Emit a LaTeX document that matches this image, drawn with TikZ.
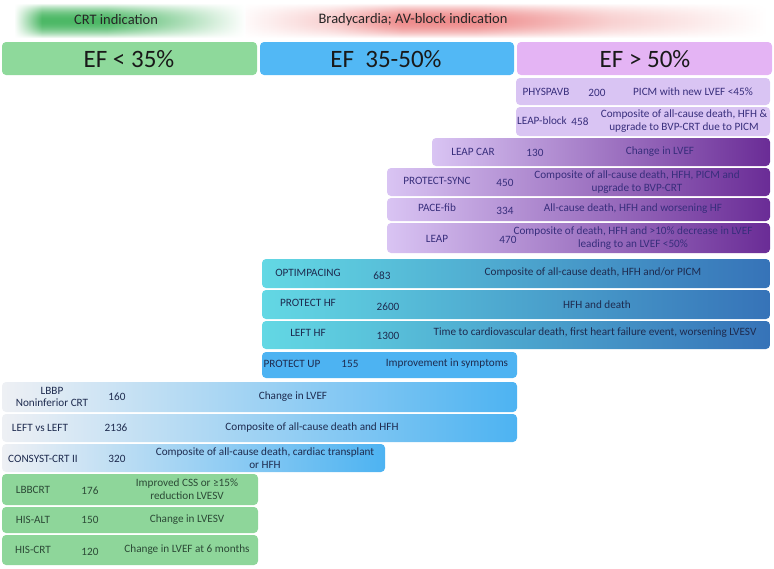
\documentclass[tikz,border=0pt]{standalone}
\usepackage{fontspec}
\setmainfont{Carlito}
\usetikzlibrary{fadings}
\definecolor{efgreen}{HTML}{8ED99B}
\definecolor{efblue}{HTML}{52B8F5}
\definecolor{efpurple}{HTML}{E4B4F4}
\definecolor{lav}{HTML}{D9C4F3}
\definecolor{lavmid}{HTML}{C3A5EA}
\definecolor{purpdark}{HTML}{6A2C96}
\definecolor{cyanL}{HTML}{63D8E4}
\definecolor{blueM}{HTML}{4AB0DA}
\definecolor{blueD}{HTML}{3673B8}
\definecolor{upblue}{HTML}{4DB3F2}
\definecolor{grayL}{HTML}{EEF0F4}
\definecolor{skyL}{HTML}{BFE1F8}
\definecolor{greenrow}{HTML}{8ED69A}
\definecolor{crtg}{HTML}{4DB866}
\definecolor{bradr}{HTML}{EE8C8C}
\definecolor{txtnavy}{HTML}{1E2B4F}
\definecolor{txtpurp}{HTML}{382E7C}
\definecolor{txtgreen}{HTML}{2C4A36}
\definecolor{txthead}{HTML}{262626}
% TikZ maps 25bp..75bp of these shadings onto the path
\pgfdeclarehorizontalshading{crtsh}{100bp}{color(0bp)=(white); color(25bp)=(white); color(31bp)=(crtg); color(45bp)=(crtg); color(62bp)=(crtg!45); color(75bp)=(white); color(100bp)=(white)}
\pgfdeclarehorizontalshading{bradsh}{100bp}{color(0bp)=(bradr!5); color(25bp)=(bradr!5); color(33bp)=(bradr!40); color(40bp)=(bradr); color(47bp)=(bradr); color(60bp)=(bradr!40); color(75bp)=(white); color(100bp)=(white)}
\tikzfading[name=vsoft, top color=transparent!100, bottom color=transparent!100, middle color=transparent!0]
\tikzset{
  box/.style={rounded corners=4pt},
  efbox/.style={box},
  band/.style={path fading=vsoft},
  eftxt/.style={font=\fontsize{25}{27}\selectfont, text=black!90, inner sep=0},
  headtxt/.style={font=\fontsize{14.5}{16}\selectfont, text=txthead, inner sep=0},
  txt/.style={font=\fontsize{11.2}{12.6}\selectfont, align=center, inner sep=0},
  ptxt/.style={txt, text=txtpurp},
  btxt/.style={txt, text=txtnavy},
  gtxt/.style={txt, text=txtgreen},
  lavsolid/.style={box, fill=lav},
  lavgrad/.style={box, left color=lav, middle color=lavmid, right color=purpdark},
  cyangrad/.style={box, left color=cyanL, middle color=blueM, right color=blueD},
  upsolid/.style={box, fill=upblue},
  skygrad/.style={box, left color=grayL, middle color=skyL, right color=upblue},
  greensolid/.style={box, fill=greenrow},
}
\begin{document}
\begin{tikzpicture}[x=1pt,y=-1pt]
\useasboundingbox (0,0) rectangle (774,568);
% headers
\path[band, shading=crtsh] (14,3) rectangle (246,38);
\path[band, shading=crtsh] (14,3) rectangle (246,38);
\path[band, shading=bradsh] (246,3) rectangle (768,38);
\path[band, shading=bradsh] (246,3) rectangle (768,38);
\node[headtxt] (hcrt) at (116,20) {CRT indication};
\node[headtxt] (hbrad) at (413,20) {Bradycardia; AV-block indication};
% EF boxes
\path[efbox, fill=efgreen] (2,42) rectangle (257,75);
\path[efbox, fill=efblue] (260,42) rectangle (514,75);
\path[efbox, fill=efpurple] (517,42) rectangle (772,75);
\node[eftxt] (ef1) at (129,59) {EF < 35\%};
\node[eftxt] (ef2) at (386,59) {EF\ \ 35-50\%};
\node[eftxt] (ef3) at (645,59) {EF > 50\%};
% purple solid rows
\path[lavsolid] (516,78) rectangle (770,105);
\node[ptxt] (n1) at (546,92) {PHYSPAVB};
\node[ptxt] (c1) at (597,93) {200};
\node[ptxt] (d1) at (693,92) {PICM with new LVEF <45\%};
\path[lavsolid] (516,107) rectangle (770,136);
\node[ptxt] (n2) at (542,121) {LEAP-block};
\node[ptxt] (c2) at (580,122) {458};
\node[ptxt] (d2) at (684,121) {Composite of all-cause death, HFH \&\\upgrade to BVP-CRT due to PICM};
% purple gradient rows
\path[lavgrad] (432,138) rectangle (770,166);
\node[ptxt] (n3) at (473,152) {LEAP CAR};
\node[ptxt] (c3) at (535,153) {130};
\node[ptxt] (d3) at (660,152) {Change in LVEF};
\path[lavgrad] (387,168) rectangle (770,196);
\node[ptxt] (n4) at (437,181) {PROTECT-SYNC};
\node[ptxt] (c4) at (505,183) {450};
\node[ptxt] (d4) at (637,182) {Composite of all-cause death, HFH, PICM and\\upgrade to BVP-CRT};
\path[lavgrad] (387,198) rectangle (770,221);
\node[ptxt] (n5) at (437,208) {PACE-fib};
\node[ptxt] (c5) at (505,211) {334};
\node[ptxt] (d5) at (633,209) {All-cause death, HFH and worsening HF};
\path[lavgrad] (387,223) rectangle (770,253);
\node[ptxt] (n6) at (437,239) {LEAP};
\node[ptxt] (c6) at (508,240) {470};
\node[ptxt] (d6) at (633,238) {Composite of death, HFH and >10\% decrease in LVEF\\leading to an LVEF <50\%};
% blue gradient rows
\path[cyangrad] (262,259) rectangle (770,288);
\node[btxt] (n7) at (308,273) {OPTIMPACING};
\node[btxt] (c7) at (382,276) {683};
\node[btxt] (d7) at (593,273) {Composite of all-cause death, HFH and/or PICM};
\path[cyangrad] (262,290) rectangle (770,319);
\node[btxt] (n8) at (308,303) {PROTECT HF};
\node[btxt] (c8) at (388,307) {2600};
\node[btxt] (d8) at (597,305) {HFH and death};
\path[cyangrad] (262,321) rectangle (770,349);
\node[btxt] (n9) at (308,333) {LEFT HF};
\node[btxt] (c9) at (388,336) {1300};
\node[btxt] (d9) at (595,333) {Time to cardiovascular death, first heart failure event, worsening LVESV};
\path[upsolid] (262,352) rectangle (517,378);
\node[btxt] (n10) at (292,364) {PROTECT UP};
\node[btxt] (c10) at (350,364) {155};
\node[btxt] (d10) at (447,364) {Improvement in symptoms};
% sky gradient rows
\path[skygrad] (2,382) rectangle (517,412);
\node[btxt] (n11) at (52,397) {LBBP\\Noninferior CRT};
\node[btxt] (c11) at (117,397) {160};
\node[btxt] (d11) at (293,397) {Change in LVEF};
\path[skygrad] (2,414) rectangle (517,442);
\node[btxt] (n12) at (40,428) {LEFT vs LEFT};
\node[btxt] (c12) at (116,428) {2136};
\node[btxt] (d12) at (312,428) {Composite of all-cause death and HFH};
\path[skygrad] (2,444) rectangle (385,472);
\node[btxt] (n13) at (43,459) {CONSYST-CRT II};
\node[btxt] (c13) at (117,459) {320};
\node[btxt] (d13) at (265,458) {Composite of all-cause death, cardiac transplant\\or HFH};
% green rows
\path[greensolid] (2,474) rectangle (258,505);
\node[gtxt] (n14) at (33,490) {LBBCRT};
\node[gtxt] (c14) at (90,491) {176};
\node[gtxt] (d14) at (187,489) {Improved CSS or ≥15\%\\reduction LVESV};
\path[greensolid] (2,507) rectangle (258,533);
\node[gtxt] (n15) at (33,520) {HIS-ALT};
\node[gtxt] (c15) at (90,520) {150};
\node[gtxt] (d15) at (187,520) {Change in LVESV};
\path[greensolid] (2,535) rectangle (258,565);
\node[gtxt] (n16) at (33,550) {HIS-CRT};
\node[gtxt] (c16) at (90,552) {120};
\node[gtxt] (d16) at (187,550) {Change in LVEF at 6 months};
\end{tikzpicture}
\end{document}
